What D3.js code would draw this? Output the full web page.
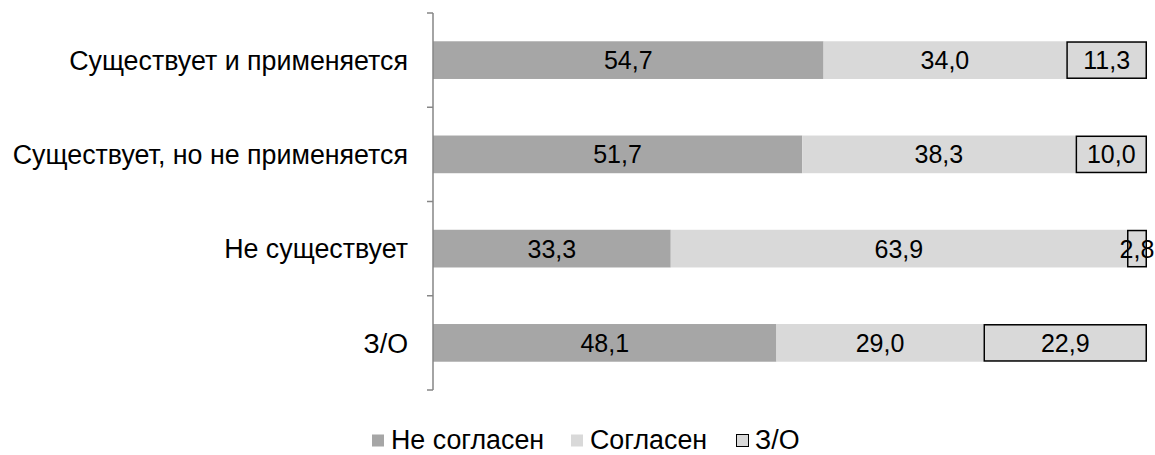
<!DOCTYPE html>
<html><head><meta charset="utf-8">
<script src="https://cdn.jsdelivr.net/npm/d3@7"></script>
<style>body{margin:0;background:#fff}svg{display:block;font-family:"Liberation Sans",Arial,sans-serif}</style>
</head><body><svg id="c" width="1155" height="455"></svg>
<script>
const categories = ["Существует и применяется","Существует, но не применяется","Не существует","З/О"];
const seriesNames = ["Не согласен","Согласен","З/О"];
const disagree = [54.7, 51.7, 33.3, 48.1];
const agree = [34.0, 38.3, 63.9, 29.0];
const noAnswer = [11.3, 10.0, 2.8, 22.9];
const colors = ["#a6a6a6","#d9d9d9","#d9d9d9"];

const svg = d3.select("#c");
const x = d3.scaleLinear().domain([0,100]).range([433,1147]);
const y = d3.scaleBand().domain(categories).range([13,390]).paddingInner(0.6).paddingOuter(0.3);
const fsVal = 25, fsLab = 26.8;

const stackData = categories.map((c,i)=>({cat:c, s0:disagree[i], s1:agree[i], s2:noAnswer[i]}));
const stack = d3.stack().keys(["s0","s1","s2"])(stackData);

stack.forEach((layer,k)=>{
  const g = svg.append("g");
  g.selectAll("rect").data(layer).join("rect")
    .attr("x",d=>x(d[0])+(k===2?0.75:0))
    .attr("y",d=>y(d.data.cat)+(k===2?0.75:0))
    .attr("width",d=>x(d[1])-x(d[0])-(k===2?1.5:0))
    .attr("height",y.bandwidth()-(k===2?1.5:0))
    .attr("fill",colors[k])
    .attr("stroke",k===2?"#000":"none")
    .attr("stroke-width",k===2?1.5:0);
  g.selectAll("text").data(layer).join("text")
    .attr("x",d=>(x(d[0])+x(d[1]))/2)
    .attr("y",d=>y(d.data.cat)+y.bandwidth()/2)
    .attr("dy","0.36em").attr("text-anchor","middle")
    .attr("font-size",fsVal).attr("fill","#000")
    .text(d=>(d[1]-d[0]).toFixed(1).replace(".",","));
});

// axis
const yTicks = d3.scaleBand().domain(categories).range([13,390]);
const ax = svg.append("g");
ax.append("line").attr("x1",433).attr("x2",433).attr("y1",13).attr("y2",390).attr("stroke","#868686").attr("stroke-width",1.5);
const bounds = categories.map(c=>yTicks(c)).concat([390]);
ax.selectAll("line.t").data(bounds).join("line").attr("class","t")
  .attr("x1",427).attr("x2",433).attr("y1",d=>d).attr("y2",d=>d)
  .attr("stroke","#868686").attr("stroke-width",1.5);
ax.selectAll("text").data(categories).join("text")
  .attr("x",408).attr("y",d=>yTicks(d)+yTicks.bandwidth()/2).attr("dy","0.36em")
  .attr("text-anchor","end").attr("font-size",fsLab).text(d=>d);

// legend
const legX = [372,571,736];
const lg = svg.append("g");
seriesNames.forEach((n,i)=>{
  lg.append("rect").attr("x",legX[i]+(i===2?0.5:0)).attr("y",434.5).attr("width",12).attr("height",12)
    .attr("fill",colors[i]).attr("stroke",i===2?"#000":"none").attr("stroke-width",1);
  lg.append("text").attr("x",legX[i]+19).attr("y",440).attr("dy","0.35em").attr("font-size",fsLab).text(n);
});
</script></body></html>
